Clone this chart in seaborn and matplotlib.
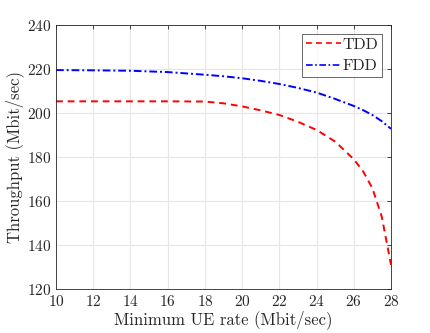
import matplotlib
matplotlib.use("Agg")
import matplotlib.pyplot as plt
import seaborn as sns
import pandas as pd

x_rate = [10, 12, 14, 16, 18, 19, 20, 21, 22, 23, 24, 25, 26, 26.5, 27, 27.5, 28]
tdd = [205.3, 205.3, 205.3, 205.3, 205.2, 204.4, 203.0, 201.2, 199.1, 196.0, 192.3, 187.0, 179.0, 173.5, 165.8, 153.0, 131.0]
fdd = [219.5, 219.4, 219.2, 218.6, 217.4, 216.7, 215.8, 214.6, 213.2, 211.4, 209.3, 206.4, 203.2, 201.3, 199.1, 196.3, 192.8]

df = pd.DataFrame({"x": x_rate * 2, "y": tdd + fdd,
                   "series": ["TDD"] * len(x_rate) + ["FDD"] * len(x_rate)})

sns.set_style("white")
plt.rcParams["font.family"] = ["cmr10", "DejaVu Serif"]
plt.rcParams["axes.formatter.use_mathtext"] = True

fig = plt.figure(figsize=(4.31, 3.33), dpi=100)
ax = fig.add_axes([56 / 431, 1 - 289 / 333, 335 / 431, 264 / 333])

sns.lineplot(data=df, x="x", y="y", hue="series", style="series",
             palette={"TDD": "#ff0000", "FDD": "#0000ff"},
             dashes={"TDD": (3.5, 2.5), "FDD": (4, 1.5, 1, 1.5)},
             linewidth=1.4, ax=ax, legend=True)

ax.set_xlim(10, 28)
ax.set_ylim(120, 240)
ax.set_xticks(range(10, 29, 2))
ax.set_yticks(range(120, 241, 20))
ax.grid(True, color="#e6e6e6", linewidth=0.8)
ax.set_axisbelow(True)
ax.tick_params(direction="in", length=3, top=True, right=True, labelsize=11,
               colors="#262626", width=0.6)
for s in ax.spines.values():
    s.set_color("#262626")
    s.set_linewidth(0.6)
ax.set_xlabel("Minimum UE rate (Mbit/sec)", fontsize=12, color="#262626", labelpad=1)
ax.set_ylabel("Throughput (Mbit/sec)", fontsize=12, color="#262626", labelpad=2)

leg = ax.legend(loc="upper right", fontsize=11.5, frameon=True, fancybox=False,
                edgecolor="#262626", handlelength=2.2, borderpad=0.25,
                handletextpad=0.1, labelspacing=0.45, borderaxespad=0.55)
leg.get_frame().set_linewidth(0.6)
for line in leg.get_lines():
    line.set_linewidth(1.2)

fig.savefig("out.png", dpi=100)
